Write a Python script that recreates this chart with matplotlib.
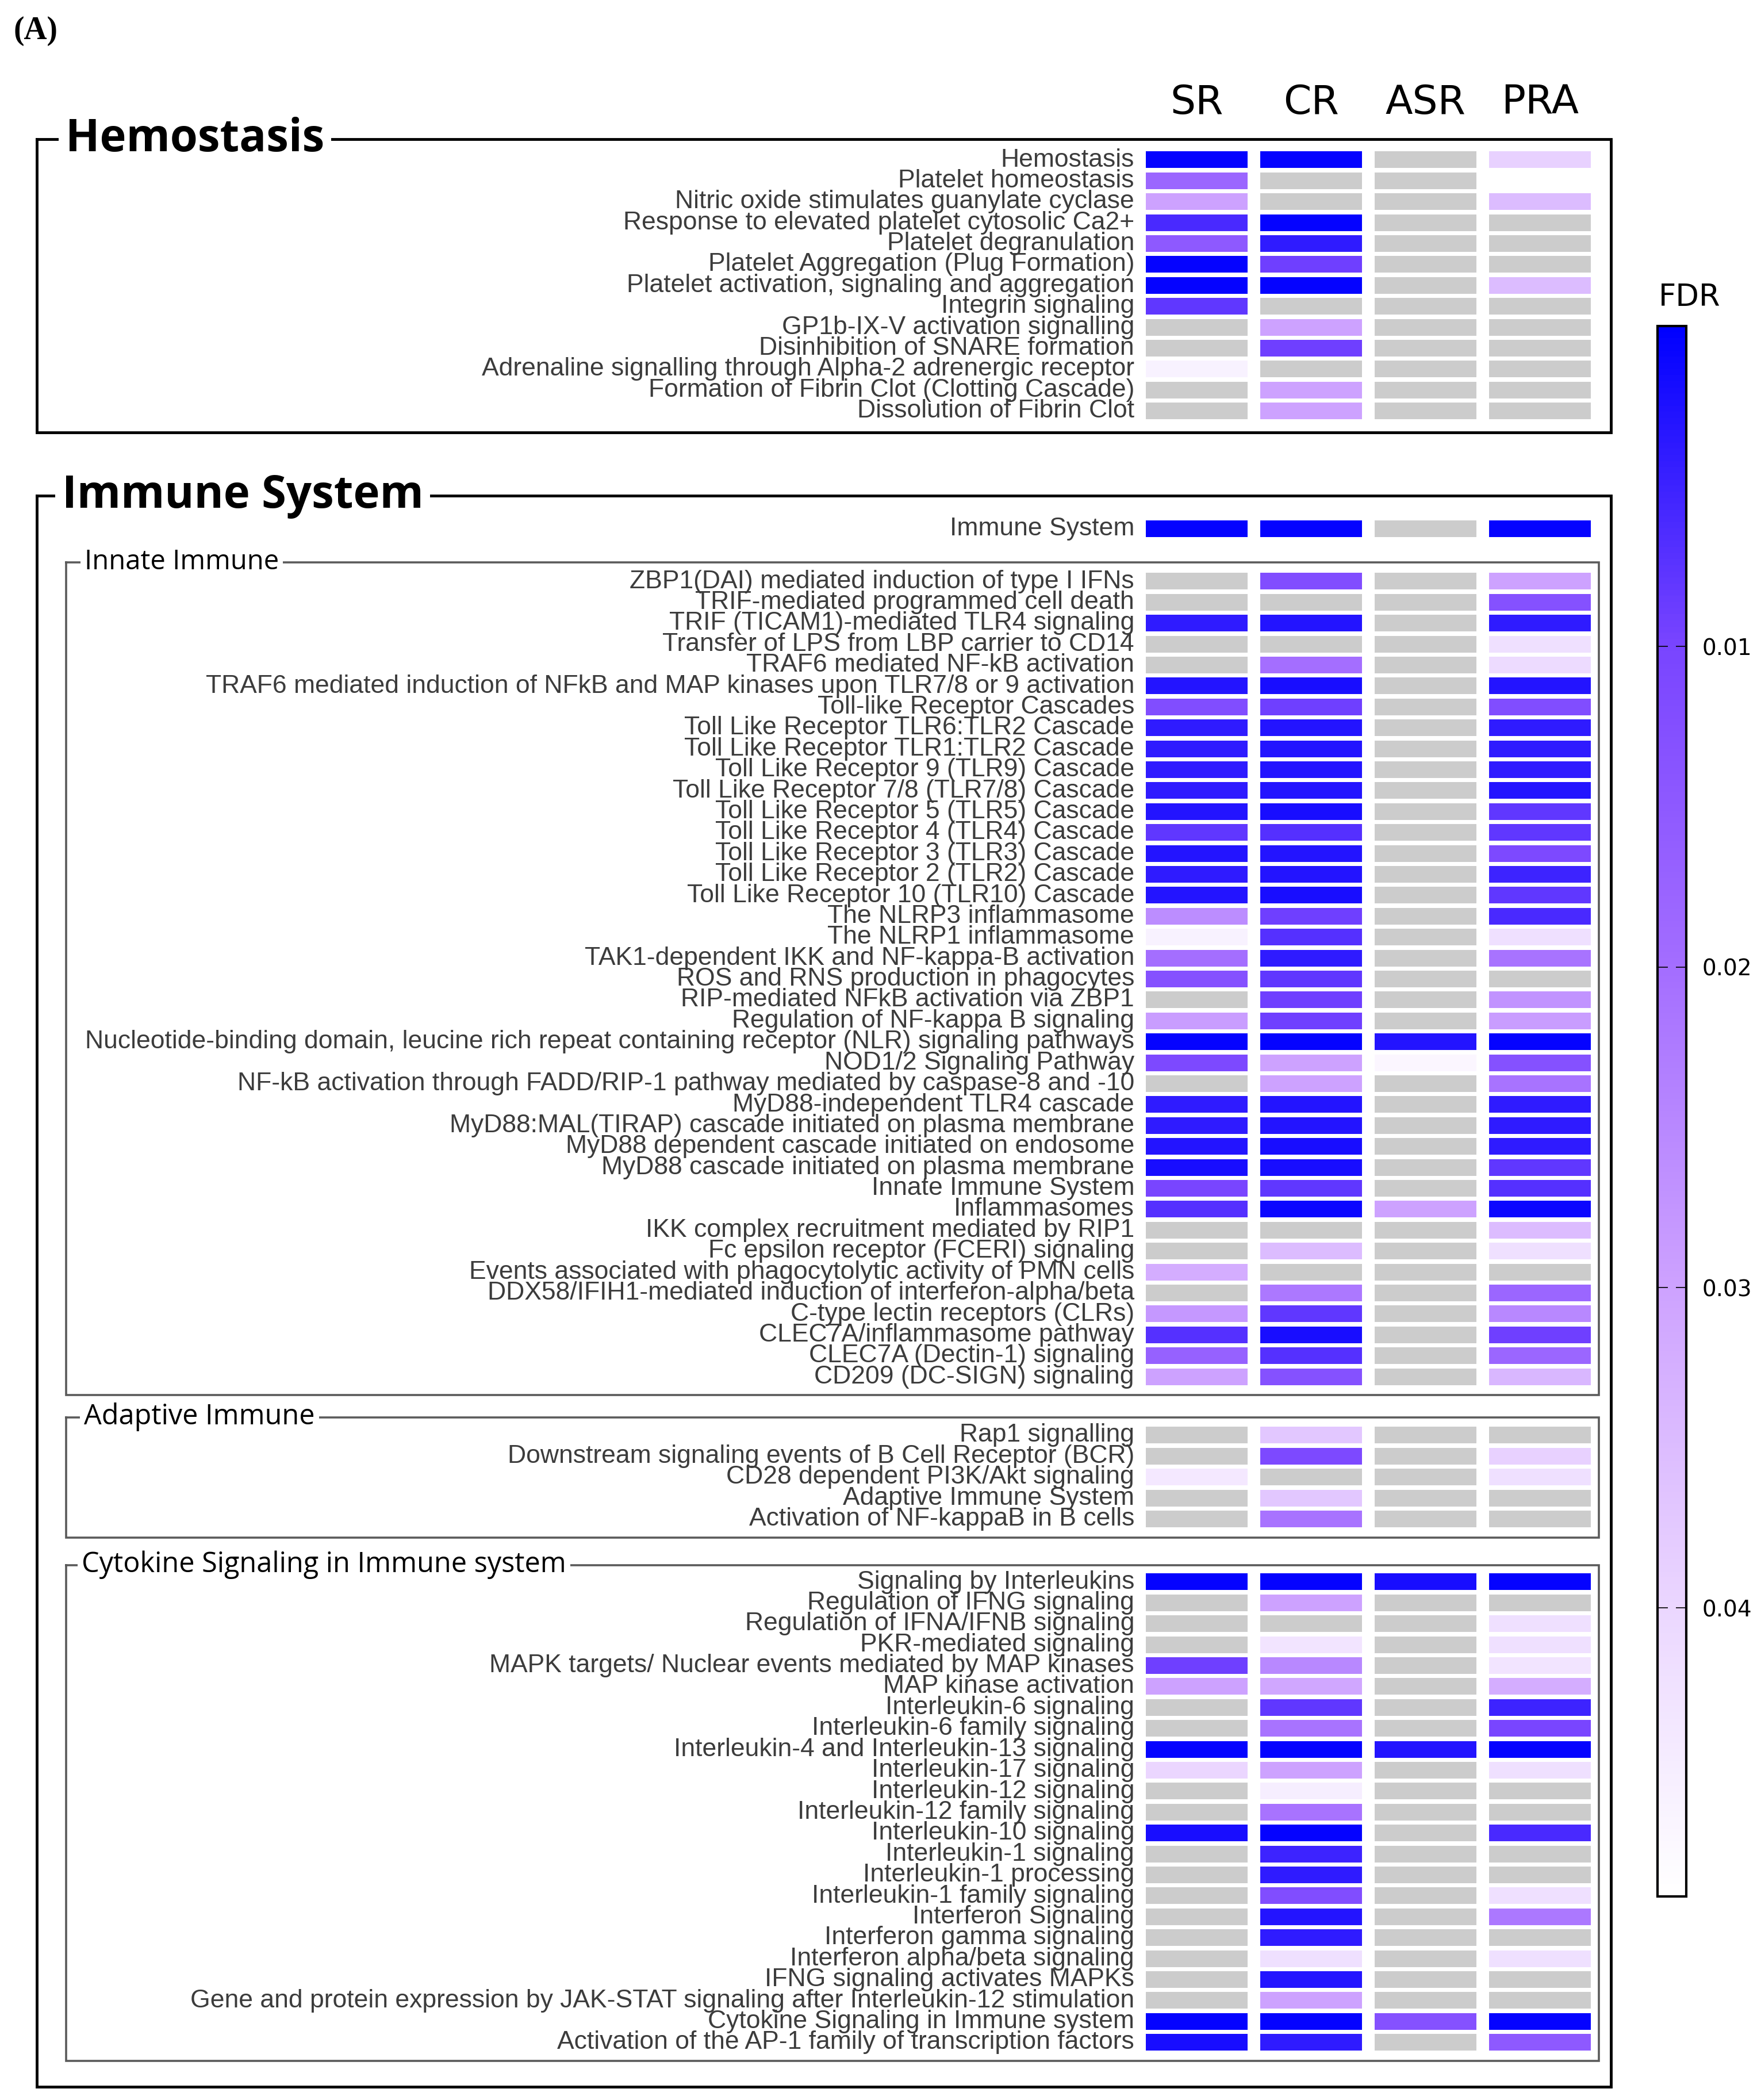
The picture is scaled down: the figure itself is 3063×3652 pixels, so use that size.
import numpy as np
import matplotlib as mpl
import matplotlib.pyplot as plt
from matplotlib.colors import LinearSegmentedColormap, Normalize

NA = np.nan
conditions = ['SR', 'CR', 'ASR', 'PRA']

# --- Hemostasis ---
hemo_terms = [
    "Hemostasis", "Platelet homeostasis", "Nitric oxide stimulates guanylate cyclase",
    "Response to elevated platelet cytosolic Ca2+", "Platelet degranulation",
    "Platelet Aggregation (Plug Formation)", "Platelet activation, signaling and aggregation",
    "Integrin signaling", "GP1b-IX-V activation signalling", "Disinhibition of SNARE formation",
    "Adrenaline signalling through Alpha-2 adrenergic receptor",
    "Formation of Fibrin Clot (Clotting Cascade)", "Dissolution of Fibrin Clot",
]
hemo_fdr = [
    [0.0005, 0.0005, NA, 0.039],
    [0.018, NA, NA, 0.049],
    [0.030, NA, NA, 0.035],
    [0.006, 0.0005, NA, NA],
    [0.015, 0.004, NA, NA],
    [0.0005, 0.009, NA, NA],
    [0.0005, 0.0005, NA, 0.035],
    [0.008, NA, NA, NA],
    [NA, 0.030, NA, NA],
    [NA, 0.009, NA, NA],
    [0.046, NA, NA, NA],
    [NA, 0.030, NA, NA],
    [NA, 0.030, NA, NA],
]

# --- Immune System (top term) ---
immune_terms = ["Immune System"]
immune_fdr = [[0.0005, 0.0005, NA, 0.0005]]

# --- Innate Immune ---
innate_terms = [
    "ZBP1(DAI) mediated induction of type I IFNs", "TRIF-mediated programmed cell death",
    "TRIF (TICAM1)-mediated TLR4 signaling", "Transfer of LPS from LBP carrier to CD14",
    "TRAF6 mediated NF-kB activation",
    "TRAF6 mediated induction of NFkB and MAP kinases upon TLR7/8 or 9 activation",
    "Toll-like Receptor Cascades", "Toll Like Receptor TLR6:TLR2 Cascade",
    "Toll Like Receptor TLR1:TLR2 Cascade", "Toll Like Receptor 9 (TLR9) Cascade",
    "Toll Like Receptor 7/8 (TLR7/8) Cascade", "Toll Like Receptor 5 (TLR5) Cascade",
    "Toll Like Receptor 4 (TLR4) Cascade", "Toll Like Receptor 3 (TLR3) Cascade",
    "Toll Like Receptor 2 (TLR2) Cascade", "Toll Like Receptor 10 (TLR10) Cascade",
    "The NLRP3 inflammasome", "The NLRP1 inflammasome",
    "TAK1-dependent IKK and NF-kappa-B activation", "ROS and RNS production in phagocytes",
    "RIP-mediated NFkB activation via ZBP1", "Regulation of NF-kappa B signaling",
    "Nucleotide-binding domain, leucine rich repeat containing receptor (NLR) signaling pathways",
    "NOD1/2 Signaling Pathway",
    "NF-kB activation through FADD/RIP-1 pathway mediated by caspase-8 and -10",
    "MyD88-independent TLR4 cascade", "MyD88:MAL(TIRAP) cascade initiated on plasma membrane",
    "MyD88 dependent cascade initiated on endosome", "MyD88 cascade initiated on plasma membrane",
    "Innate Immune System", "Inflammasomes", "IKK complex recruitment mediated by RIP1",
    "Fc epsilon receptor (FCERI) signaling",
    "Events associated with phagocytolytic activity of PMN cells",
    "DDX58/IFIH1-mediated induction of interferon-alpha/beta", "C-type lectin receptors (CLRs)",
    "CLEC7A/inflammasome pathway", "CLEC7A (Dectin-1) signaling", "CD209 (DC-SIGN) signaling",
]
innate_fdr = [
    [NA, 0.012, NA, 0.030],
    [NA, NA, NA, 0.013],
    [0.004, 0.003, NA, 0.004],
    [NA, NA, NA, 0.042],
    [NA, 0.020, NA, 0.041],
    [0.003, 0.002, NA, 0.003],
    [0.012, 0.009, NA, 0.012],
    [0.004, 0.003, NA, 0.004],
    [0.004, 0.003, NA, 0.004],
    [0.004, 0.003, NA, 0.004],
    [0.004, 0.003, NA, 0.003],
    [0.003, 0.002, NA, 0.008],
    [0.008, 0.007, NA, 0.008],
    [0.003, 0.003, NA, 0.011],
    [0.004, 0.003, NA, 0.005],
    [0.003, 0.002, NA, 0.008],
    [0.026, 0.009, NA, 0.006],
    [0.046, 0.007, NA, 0.042],
    [0.020, 0.004, NA, 0.021],
    [0.013, 0.008, NA, NA],
    [NA, 0.009, NA, 0.027],
    [0.029, 0.009, NA, 0.029],
    [0.0005, 0.0005, 0.003, 0.0005],
    [0.011, 0.030, 0.047, 0.013],
    [NA, 0.030, NA, 0.021],
    [0.004, 0.003, NA, 0.004],
    [0.004, 0.003, NA, 0.004],
    [0.003, 0.002, NA, 0.004],
    [0.002, 0.002, NA, 0.008],
    [0.010, 0.008, NA, 0.007],
    [0.007, 0.001, 0.030, 0.001],
    [NA, NA, NA, 0.035],
    [NA, 0.035, NA, 0.042],
    [0.032, NA, NA, NA],
    [NA, 0.022, NA, 0.018],
    [0.028, 0.008, NA, 0.025],
    [0.007, 0.002, NA, 0.009],
    [0.017, 0.007, NA, 0.018],
    [0.030, 0.013, NA, 0.034],
]

# --- Adaptive Immune ---
adaptive_terms = [
    "Rap1 signalling", "Downstream signaling events of B Cell Receptor (BCR)",
    "CD28 dependent PI3K/Akt signaling", "Adaptive Immune System",
    "Activation of NF-kappaB in B cells",
]
adaptive_fdr = [
    [NA, 0.037, NA, NA],
    [NA, 0.011, NA, 0.039],
    [0.044, NA, NA, 0.042],
    [NA, 0.037, NA, NA],
    [NA, 0.021, NA, NA],
]

# --- Cytokine Signaling in Immune system ---
cytokine_terms = [
    "Signaling by Interleukins", "Regulation of IFNG signaling",
    "Regulation of IFNA/IFNB signaling", "PKR-mediated signaling",
    "MAPK targets/ Nuclear events mediated by MAP kinases", "MAP kinase activation",
    "Interleukin-6 signaling", "Interleukin-6 family signaling",
    "Interleukin-4 and Interleukin-13 signaling", "Interleukin-17 signaling",
    "Interleukin-12 signaling", "Interleukin-12 family signaling", "Interleukin-10 signaling",
    "Interleukin-1 signaling", "Interleukin-1 processing", "Interleukin-1 family signaling",
    "Interferon Signaling", "Interferon gamma signaling", "Interferon alpha/beta signaling",
    "IFNG signaling activates MAPKs",
    "Gene and protein expression by JAK-STAT signaling after Interleukin-12 stimulation",
    "Cytokine Signaling in Immune system",
    "Activation of the AP-1 family of transcription factors",
]
cytokine_fdr = [
    [0.0005, 0.0005, 0.002, 0.0005],
    [NA, 0.030, NA, NA],
    [NA, NA, NA, 0.042],
    [NA, 0.043, NA, 0.042],
    [0.009, 0.025, NA, 0.043],
    [0.030, 0.031, NA, 0.032],
    [NA, 0.008, NA, 0.005],
    [NA, 0.021, NA, 0.010],
    [0.0005, 0.0005, 0.003, 0.0005],
    [0.040, 0.030, NA, 0.042],
    [NA, 0.045, NA, NA],
    [NA, 0.021, NA, NA],
    [0.002, 0.0005, NA, 0.006],
    [NA, 0.005, NA, NA],
    [NA, 0.004, NA, NA],
    [NA, 0.012, NA, 0.042],
    [NA, 0.003, NA, 0.022],
    [NA, 0.004, NA, NA],
    [NA, 0.042, NA, 0.042],
    [NA, 0.003, NA, NA],
    [NA, 0.030, NA, NA],
    [0.0005, 0.0005, 0.013, 0.0005],
    [0.002, 0.004, NA, 0.015],
]

cbar_ticks = [0.01, 0.02, 0.03, 0.04]

# ---------------------------------------------------------------
W, H = 3063, 3652
fig = plt.figure(figsize=(W / 100, H / 100), dpi=100)
ax = fig.add_axes([0, 0, 1, 1])
ax.set_xlim(0, W)
ax.set_ylim(H, 0)
ax.axis('off')

cmap = LinearSegmentedColormap.from_list(
    'fdr', [(0.0, '#0000FF'), (0.2, '#7844FF'), (0.41, '#A46EFF'),
            (0.61, '#CDA2FF'), (0.81, '#EAD5FF'), (1.0, '#FFFFFF')])
cmap.set_bad('#CCCCCC')
norm = Normalize(vmin=0.0, vmax=0.049)

pitch = 36.4
col_left, col_pitch, cell_w, cell_h = 1993, 199, 177, 29
label_x = 1973
label_font = dict(family=['Liberation Sans', 'DejaVu Sans'], fontsize=32, color='#3c3c3c')


def draw_rows(terms, fdr, y0):
    fdr = np.array(fdr, dtype=float)
    ys = y0 + pitch * np.arange(len(terms))
    for j in range(len(conditions)):
        colors = cmap(norm(np.ma.masked_invalid(fdr[:, j])))
        ax.barh(ys, cell_w, height=cell_h, left=col_left + j * col_pitch,
                color=colors, linewidth=0)
    for y, t in zip(ys, terms):
        ax.text(label_x, y, t, ha='right', va='center', **label_font)


def box(x0, y0, x1, y1, color, lw):
    ax.plot([x0, x1, x1, x0, x0], [y0, y0, y1, y1, y0], color=color, lw=lw,
            solid_joinstyle='miter', solid_capstyle='projecting')


def box_title(x, y, text, size, weight):
    ax.text(x, y, text, ha='left', va='baseline', fontsize=size, fontweight=weight,
            family=['Open Sans', 'DejaVu Sans'], color='black', zorder=5,
            bbox=dict(boxstyle='square,pad=0.15', fc='white', ec='none'))


# panel letter and column headers
ax.text(23, 68, '(A)', ha='left', va='baseline', fontsize=40, fontweight='bold',
        family=['Liberation Serif', 'DejaVu Serif'])
for j, c in enumerate(conditions):
    ax.text(col_left + j * col_pitch + cell_w / 2, 198, c, ha='center', va='baseline',
            fontsize=50, family=['DejaVu Sans'])

# section boxes
box(64, 242, 2802, 752, 'black', 3.5)
box_title(114, 263, 'Hemostasis', 56, 'bold')
box(64, 862, 2802, 3629, 'black', 3.5)
box_title(108, 883, 'Immune System', 56, 'bold')
inner_col = '#5a5a5a'
box(115, 978, 2781, 2426, inner_col, 2.6)
box_title(147, 990, 'Innate Immune', 34, 'normal')
box(115, 2465, 2781, 2674, inner_col, 2.6)
box_title(146, 2477, 'Adaptive Immune', 35, 'normal')
box(115, 2722, 2781, 3584, inner_col, 2.6)
box_title(142, 2734, 'Cytokine Signaling in Immune system', 35, 'normal')

# heatmap rows
draw_rows(hemo_terms, hemo_fdr, 278)
draw_rows(immune_terms, immune_fdr, 920)
draw_rows(innate_terms, innate_fdr, 1011)
draw_rows(adaptive_terms, adaptive_fdr, 2496)
draw_rows(cytokine_terms, cytokine_fdr, 2751)

# colour bar
cax = fig.add_axes([2883 / W, 1 - 3298 / H, (2933 - 2883) / W, (3298 - 567) / H])
sm = mpl.cm.ScalarMappable(norm=norm, cmap=cmap)
cb = fig.colorbar(sm, cax=cax, ticks=cbar_ticks)
cax.invert_yaxis()
cb.outline.set_linewidth(3)
cb.outline.set_edgecolor('black')
cax.tick_params(direction='in', length=13, width=1.2, left=True, right=True,
                labelsize=28, pad=20)
cb.set_ticklabels([f'{t:.2f}' for t in cbar_ticks])
ax.text(2939, 517, 'FDR', ha='center', va='center', fontsize=38, family=['DejaVu Sans'])

fig.savefig('out.png', dpi=100)
